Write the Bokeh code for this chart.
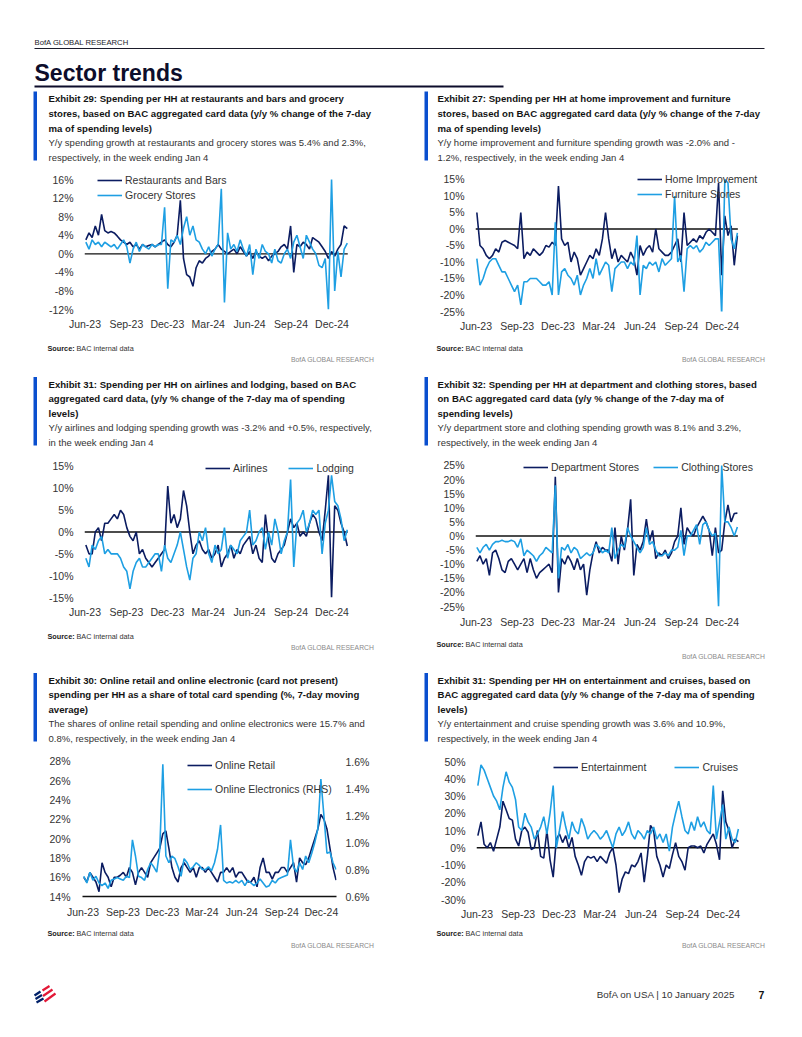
import pandas as pd
from datetime import datetime
from bokeh.plotting import figure
from bokeh.layouts import column, row
from bokeh.models import (Range1d, FixedTicker, DatetimeTickFormatter, PrintfTickFormatter,
                          Legend, LegendItem, LinearAxis)
from bokeh.core.properties import value
from bokeh.embed import file_html
from bokeh.resources import INLINE

# ---------------- data ----------------
dates = pd.date_range("2023-06-03", periods=84, freq="7D")
x_tick_dates = ["2023-06-01", "2023-09-01", "2023-12-01", "2024-03-01", "2024-06-01", "2024-09-01", "2024-12-01"]

restaurants = [3.0, 4.5, 3.5, 6.0, 4.0, 8.5, 5.0, 4.5, 4.8, 4.5, 3.8, 3.0, 2.5,
               2.0, 2.5, 1.5, 2.0, 1.0, 2.0, 1.5, 1.8, 2.0, 1.5, 2.0, 2.5, 3.0,
               2.0, 1.5, 2.5, 4.0, 11.5, -1.0, -4.5, -5.0, -7.0, -3.0, -1.5, -2.0, -1.0,
               -0.5, 0.5, 1.0, 2.0, 1.0, 0.5, 0.0, 0.5, 1.0, 0.0, 1.5, 0.5, -0.5,
               0.5, -1.0, 0.5, -0.5, -1.0, -0.5, -1.5, -0.5, 0.0, 0.5, 1.5, 2.0, 1.0,
               6.0, -4.0, 2.0, 1.5, 2.5, 2.0, 1.0, 3.5, 3.0, 2.5, 1.5, 0.5, -1.0,
               0.5, -0.5, 1.0, 2.0, 6.0, 5.4]
grocery = [2.5, 1.0, 3.0, 2.0, 2.5, 1.5, 2.5, 2.0, 1.5, 2.0, 1.0, 2.0, 3.0,
           1.5, -2.0, 1.0, 2.5, 0.5, 2.0, 1.5, 1.0, 2.0, 1.5, 2.0, 2.0, 10.0,
           -7.5, 3.0, 2.5, 4.0, 2.0, 5.5, 8.0, 4.0, 6.0, 3.0, 2.5, 1.0, 0.0,
           1.5, -0.5, 1.0, 2.0, 14.0, -10.5, 4.5, 1.0, 2.0, 0.5, 3.0, 1.0, -0.5,
           2.0, -4.5, 1.0, -1.0, 2.0, 0.5, 0.0, -2.0, 1.0, -1.5, -2.0, 0.0, 1.0,
           -1.0, 2.5, 4.0, 1.5, -1.0, 4.0, 2.5, 1.0, 0.0, -2.5, -3.0, -1.0, -12.0,
           16.0, -8.0, 0.5, -5.0, 1.0, 2.3]

home_improvement = [5.0, -5.0, -6.0, -8.0, -9.0, -8.0, -6.0, -7.0, -4.0, -3.5, -4.0, -4.5, -5.0,
                    -6.0, 5.0, -9.0, -7.0, -8.0, -6.0, -7.0, -8.0, -7.0, -5.0, -5.5, -4.0, -5.0,
                    13.0, -3.0, -5.0, -4.0, -10.0, -7.0, -9.0, -14.0, -12.0, -10.0, -8.0, -9.0, -6.0,
                    -8.0, -3.0, 5.0, -3.0, -9.0, -6.0, -10.0, -8.0, -9.0, -10.0, -7.0, -9.0, -14.0,
                    -5.0, -8.0, -6.0, -5.0, -7.0, 0.0, -6.0, -7.0, -8.0, -8.0, -7.0, -5.0, -3.0,
                    -10.0, 5.0, -5.0, -4.0, -3.0, -4.0, -2.0, -3.0, -1.0, 0.0, -1.0, -2.0, 14.0,
                    -14.0, 4.0, -2.0, 1.0, -11.0, -2.0]
furniture = [-9.0, -17.0, -15.0, -12.0, -10.0, -9.0, -9.0, -11.0, -13.0, -13.0, -15.0, -17.0, -19.0,
             -17.0, -23.0, -16.0, -16.0, -15.0, -15.0, -15.0, -16.0, -17.0, -17.0, -16.0, -20.0, 2.0,
             -20.0, -13.0, -12.0, -14.0, -15.0, -17.0, -14.0, -20.0, -17.0, -15.0, -12.0, -15.0, -9.0,
             -14.0, -12.0, -10.0, -11.0, -19.0, -12.0, -11.0, -10.0, -10.0, -12.0, -10.0, -11.0, -2.0,
             -20.0, -11.0, -12.0, -10.0, -11.0, -10.0, -13.0, -9.0, -11.0, -10.0, -9.0, 10.0, -10.0,
             -8.0, -19.0, -6.0, -5.0, -6.0, -5.0, -7.0, -6.0, -4.0, -5.0, -4.0, -3.0, -3.0,
             -26.0, 15.0, 14.0, -3.0, -6.0, -1.2]

airlines = [-3.0, -5.0, -5.0, 0.0, 1.0, -2.0, 2.0, 2.0, 3.0, 4.0, 3.0, 5.0, 4.0,
            1.0, -1.0, -2.0, 0.0, -5.0, -4.0, -6.0, -7.0, -8.0, -7.0, -6.0, -5.0, -4.0,
            10.5, 2.0, 4.0, 1.0, 3.0, 9.5, 6.0, 0.0, -5.0, -3.0, -2.0, -4.0, -5.0,
            -4.0, -6.0, -5.0, -3.0, -8.0, -6.0, -5.0, -3.0, -6.0, -4.0, -5.0, -3.0, -2.0,
            -1.0, -5.0, -3.0, -6.0, -7.0, 4.0, -2.0, -6.0, -7.0, -5.0, -4.0, -3.0, 0.0,
            3.0, 1.0, 2.0, -1.0, 0.0, -1.0, 2.0, 4.0, 3.0, 0.0, -2.0, 5.0, 13.0,
            -15.0, 6.0, 5.0, 2.0, 0.0, -3.2]
lodging = [-6.0, -8.0, -3.0, -4.0, -2.0, -1.0, -5.0, -4.0, -5.0, -5.0, -5.0, -6.0, -8.0,
           -9.0, -13.0, -9.0, -7.0, -6.0, -8.0, -8.0, -7.0, -6.0, -5.0, -5.0, -9.0, -3.0,
           -6.0, -7.0, -5.0, -3.0, 0.0, -4.0, -8.0, -11.0, -6.0, -5.0, 0.0, -2.0, 1.0,
           -5.0, -7.0, -3.0, -5.0, -4.0, 1.0, -6.0, -3.0, -4.0, -5.0, -2.0, -1.0, 0.0,
           5.0, -3.0, -2.0, 0.0, 1.0, -4.0, 0.0, -3.0, 3.0, 0.0, -5.0, -2.0, 0.0,
           12.0, -8.0, 2.0, 3.0, 5.0, 0.0, 2.0, 5.0, 4.0, 5.0, -5.0, 2.0, 5.0,
           13.0, 7.0, 6.0, 3.0, -2.0, 0.5]

department = [-9.0, -7.0, -10.0, -8.0, -14.0, -6.0, -5.0, -8.0, -12.0, -13.0, -9.0, -8.0, -10.0,
              -12.0, -10.0, -8.0, -13.0, -8.0, -12.0, -15.0, -13.0, -12.0, -11.0, -10.0, -13.0, 21.0,
              -20.0, -8.0, -10.0, -7.0, -9.0, -12.0, -8.0, -12.0, -10.0, -21.0, -12.0, -6.0, -2.0,
              -6.0, -4.0, -5.0, -5.0, -9.0, 3.0, -10.0, 0.0, -5.0, 2.0, 13.0, -14.0, -3.0,
              -5.0, -2.0, 6.0, -2.0, 2.0, -8.0, -6.0, -7.0, -5.0, -8.0, -6.0, -2.0, 0.0,
              10.0, -3.0, 3.0, 1.0, 0.0, 3.0, 5.0, 7.0, 5.0, 2.0, -7.0, 3.0, -6.0,
              -5.0, 5.0, 11.0, 5.0, 8.0, 8.1]
clothing = [-4.0, -6.0, -4.0, -3.0, -5.0, -3.0, -2.0, -2.0, -1.5, -2.0, -2.0, -1.5, -2.0,
            -4.0, -1.0, -7.0, -5.0, -6.0, -7.0, -9.0, -7.0, -6.0, -4.0, -5.0, -6.0, 18.0,
            -15.0, -4.0, -5.0, -3.0, -6.0, -4.0, -5.0, -8.0, -7.0, -6.0, -7.0, -6.0, -3.0,
            -4.0, -6.0, -5.0, -6.0, 3.0, -8.0, -5.0, -3.0, -4.0, 3.0, 0.0, -2.0, -4.0,
            -6.0, -4.0, 3.0, -3.0, -2.0, -5.0, -7.0, -7.0, -6.0, -7.0, -5.0, -5.0, -4.0,
            2.0, -7.0, 0.0, 0.0, 2.0, 4.0, -3.0, 4.0, 5.0, 2.0, 0.0, 1.0, -25.0,
            25.0, 5.0, 5.0, 3.0, 0.0, 3.2]

online_retail = [16.0, 15.5, 16.5, 16.0, 15.5, 14.5, 17.5, 16.5, 16.0, 15.0, 16.0, 16.0, 16.2,
                 16.5, 16.0, 17.0, 16.5, 15.2, 16.5, 17.0, 16.5, 16.0, 17.5, 18.0, 18.5, 19.0,
                 20.5, 20.8, 19.0, 17.0, 16.0, 15.5, 17.0, 17.5, 17.0, 16.5, 17.0, 16.0, 17.0,
                 17.0, 16.5, 17.0, 16.5, 16.0, 15.5, 16.5, 16.5, 17.0, 16.5, 17.0, 16.0, 16.5,
                 16.5, 16.0, 15.5, 15.5, 16.0, 15.0, 17.0, 18.0, 16.5, 16.5, 15.8, 16.5, 16.5,
                 17.0, 17.0, 16.5, 17.0, 17.5, 15.5, 18.0, 17.5, 17.3, 18.0, 19.0, 20.0, 21.0,
                 22.5, 22.0, 21.0, 19.0, 17.0, 15.7]
online_electronics = [0.75, 0.70, 0.78, 0.72, 0.75, 0.70, 0.68, 0.70, 0.66, 0.72, 0.73, 0.74, 0.73,
                      0.72, 0.75, 0.74, 1.02, 0.90, 0.75, 0.74, 0.72, 0.80, 0.85, 0.82, 0.78, 0.95,
                      1.58, 0.90, 0.85, 0.90, 0.88, 0.82, 0.75, 0.88, 0.85, 0.80, 0.82, 0.85, 0.83,
                      0.80, 0.80, 0.82, 0.79, 0.85, 0.95, 1.13, 0.72, 0.70, 0.71, 0.70, 0.72, 0.70,
                      0.72, 0.68, 0.72, 0.70, 0.68, 0.70, 0.73, 0.70, 0.67, 0.68, 0.72, 0.70, 0.73,
                      0.74, 0.75, 0.76, 1.02, 0.82, 0.78, 0.85, 0.80, 0.90, 0.85, 0.92, 1.00, 1.10,
                      1.47, 1.20, 0.92, 0.93, 0.85, 0.80]

entertainment = [7, 15, 2, 0, 3, -2, 5, 12, 27, 22, 17, 16, 5,
                 1, 10, 12, 9, -1, 0, 10, -5, -6, 10, -7, -17, 5,
                 8, 3, 7, 0, 6, -5, -10, -16, -8, -5, -6, -5, -8,
                 -5, -7, -9, -3, 0, -10, -26, -18, -14, -15, -10, -11, -8,
                 -3, -20, -5, 13, 10, -5, -10, -17, -10, -12, -4, 3, -5,
                 -8, -13, 0, 1, 1, 0, 1, -3, 2, 5, 8, 2, -7,
                 33, 15, 10, 0, 5, 3.6]
cruises = [36, 48, 45, 40, 35, 30, 27, 22, 35, 44, 38, 35, 28,
           12, 10, 20, 15, 12, 5, 8, 12, 18, 8, 20, 36, 0,
           10, 21, 12, 5, 15, 10, 8, 17, 12, 5, 8, 10, 8,
           5, 7, 10, 5, 0, 8, 12, 7, 10, 15, 8, 5, 10,
           8, 5, 10, 8, 12, 5, 8, 3, 8, -2, 12, 20, 27,
           18, 10, 8, 15, 10, 18, 12, 15, 10, 8, 36, 5, 15,
           25, 5, 12, 5, 3, 10.9]

y_ticks_1 = [-12, -8, -4, 0, 4, 8, 12, 16]
y_ticks_2 = [-25, -20, -15, -10, -5, 0, 5, 10, 15]
y_ticks_3 = [-15, -10, -5, 0, 5, 10, 15]
y_ticks_4 = [-25, -20, -15, -10, -5, 0, 5, 10, 15, 20, 25]
y_ticks_5 = [14, 16, 18, 20, 22, 24, 26, 28]
y_ticks_5r = [0.6, 0.8, 1.0, 1.2, 1.4, 1.6]
y_ticks_6 = [-30, -20, -10, 0, 10, 20, 30, 40, 50]

# ---------------- styles ----------------
FONT = "Liberation Sans"
DARK = "#0b1c61"
LIGHT = "#1e9fe3"
BAR = "#0a4fcf"
TICK_FS = "10.5px"
LEG_FS = "10.5px"
HEAD_FS = "9.6px"
SUB_FS = "9.5px"
X0 = datetime(2023, 5, 31)
X1 = datetime(2025, 1, 5)       # end of data area (online panel, right axis)
X1_EXT = datetime(2025, 3, 1)   # frame extended to the right so legends are not clipped
XT = [pd.Timestamp(d).value / 1e6 for d in x_tick_dates]


def tfig(ox, oy, w, h):
    p = figure(width=w, height=h, x_range=Range1d(0, w), y_range=Range1d(h, 0),
               x_axis_type=None, y_axis_type=None, toolbar_location=None,
               output_backend="svg", min_border=0, title=None, frame_align=False)
    p.outline_line_color = None
    p.background_fill_color = "white"
    p.border_fill_color = "white"
    p._ox, p._oy = ox, oy
    return p


def put_text(p, x, y, s, size, style="normal", color="#222222", align="left", font=FONT):
    p.text(x=[x - p._ox], y=[y - p._oy], text=[s], text_font=value(font),
           text_font_size=size, text_font_style=style, text_color=color,
           text_align=align, text_baseline="middle")


def put_seg(p, x0, y0, x1, y1, color, width):
    p.segment(x0=[x0 - p._ox], y0=[y0 - p._oy], x1=[x1 - p._ox], y1=[y1 - p._oy],
              line_color=color, line_width=width)


def panel_header(p, xbar, xtext, cents, bold, sub):
    p.quad(left=[xbar - p._ox], right=[xbar + 3.5 - p._ox],
           top=[cents[0] - 7 - p._oy], bottom=[cents[-1] + 3.5 - p._oy],
           fill_color=BAR, line_color=None)
    for c, s in zip(cents[:3], bold):
        put_text(p, xtext, c, s, HEAD_FS, "bold", "#141414")
    for c, s in zip(cents[3:], sub):
        put_text(p, xtext, c, s, SUB_FS, "normal", "#333333")


def source(p, xs, ys, xr, yr):
    put_text(p, xs, ys, "Source:", "7.3px", "bold", "#222222")
    put_text(p, xs + 29, ys, "BAC internal data", "7.3px", "normal", "#333333")
    put_text(p, xr, yr, "BofA GLOBAL RESEARCH", "6.8px", "normal", "#8a8a8a", align="right")


def chart(w, h, ml, mr, mb, yr, yticks, ystand, xstand, xend=X1_EXT, zero=True):
    p = figure(width=w, height=h, x_axis_type="datetime", x_range=Range1d(X0, xend),
               y_range=Range1d(*yr), toolbar_location=None, output_backend="svg",
               min_border_left=ml, min_border_right=mr, min_border_top=0,
               min_border_bottom=mb, title=None, frame_align=False)
    p.outline_line_color = None
    p.grid.visible = False
    p.xaxis.ticker = FixedTicker(ticks=XT)
    p.xaxis.formatter = DatetimeTickFormatter(days="%b-%y", months="%b-%y", years="%b-%y",
                                              boundary_scaling=False)
    p.yaxis.ticker = FixedTicker(ticks=yticks)
    p.yaxis.formatter = PrintfTickFormatter(format="%d%%")
    for ax in p.xaxis + p.yaxis:
        ax.axis_line_color = None
        ax.major_tick_line_color = None
        ax.minor_tick_line_color = None
        ax.major_tick_out = 0
        ax.major_tick_in = 0
        ax.minor_tick_out = 0
        ax.minor_tick_in = 0
        ax.major_label_text_font = FONT
        ax.major_label_text_font_size = TICK_FS
        ax.major_label_text_color = "#333333"
    p.yaxis.major_label_standoff = ystand
    p.xaxis.major_label_standoff = xstand
    if zero:
        # zero reference line across the span of the data
        p.line(x=[X0, X1], y=[0, 0], line_color="#111111", line_width=1.3)
    return p


def legend(p, items, loc, orient, spacing):
    lg = Legend(items=[LegendItem(label=l, renderers=[r]) for l, r in items],
                location=loc, orientation=orient, spacing=spacing, padding=0, margin=0,
                glyph_width=25, glyph_height=12, label_height=12, label_standoff=3,
                label_text_font=FONT, label_text_font_size=LEG_FS, label_text_color="#333333",
                border_line_color=None, background_fill_alpha=0)
    p.add_layout(lg)


LW = 1.6

# ---------------- page header ----------------
hdr = tfig(0, 0, 800, 88)
put_text(hdr, 34, 42, "BofA GLOBAL RESEARCH", "7.7px", "normal", "#1b1b2a")
put_seg(hdr, 34, 48, 764, 48, "#1b1b2a", 1)
put_text(hdr, 34, 72.5, "Sector trends", "23px", "bold", "#0d0d2b")
put_seg(hdr, 34, 86, 503, 86, "#0d0d2b", 2)

C1 = [98, 112.5, 127.5, 142, 156.5]
C2 = [383.5, 398, 412.5, 427, 441.5]
C3 = [679.5, 694, 708.5, 723, 737.5]

# ---------------- left column ----------------
L_T0 = tfig(0, 88, 405, 80)
panel_header(L_T0, 33, 48, C1,
             ["Exhibit 29: Spending per HH at restaurants and bars and grocery",
              "stores, based on BAC aggregated card data (y/y % change of the 7-day",
              "ma of spending levels)"],
             ["Y/y spending growth at restaurants and grocery stores was 5.4% and 2.3%,",
              "respectively, in the week ending Jan 4"])

c1 = chart(405, 169, 84, 33, 28, (-12, 18.37), y_ticks_1, 11, 8)
r1a = c1.line(dates, restaurants, line_color=DARK, line_width=LW)
r1b = c1.line(dates, grocery, line_color=LIGHT, line_width=LW)
legend(c1, [("Restaurants and Bars", r1a), ("Grocery Stores", r1b)], (13, 108), "vertical", 3)

L_T1 = tfig(0, 337, 405, 121)
source(L_T1, 47, 348, 374, 358.5)
panel_header(L_T1, 33, 48, C2,
             ["Exhibit 31: Spending per HH on airlines and lodging, based on BAC",
              "aggregated card data, (y/y % change of the 7-day ma of spending",
              "levels)"],
             ["Y/y airlines and lodging spending growth was -3.2% and +0.5%, respectively,",
              "in the week ending Jan 4"])

c3 = chart(405, 167, 84, 33, 28, (-15, 16.83), y_ticks_3, 11, 8)
r3a = c3.line(dates, airlines, line_color=DARK, line_width=LW)
r3b = c3.line(dates, lodging, line_color=LIGHT, line_width=LW)
legend(c3, [("Airlines", r3a), ("Lodging", r3b)], (121, 123), "horizontal", 21)

L_T2 = tfig(0, 625, 405, 125)
source(L_T2, 47, 635.7, 374, 646.7)
panel_header(L_T2, 33, 48, C3,
             ["Exhibit 30: Online retail and online electronic (card not present)",
              "spending per HH as a share of total card spending (%, 7-day moving",
              "average)"],
             ["The shares of online retail spending and online electronics were 15.7% and",
              "0.8%, respectively, in the week ending Jan 4"])

c5 = chart(405, 175, 82, 69, 29, (14, 29.14), y_ticks_5, 12, 9, xend=X1, zero=False)
c5.xaxis.axis_line_color = "#111111"
c5.xaxis.axis_line_width = 1.5
c5.extra_y_ranges = {"rhs": Range1d(0.6, 1.6815)}
rax = LinearAxis(y_range_name="rhs", ticker=FixedTicker(ticks=y_ticks_5r),
                 formatter=PrintfTickFormatter(format="%.1f%%"))
rax.axis_line_color = None
rax.major_tick_line_color = None
rax.minor_tick_line_color = None
rax.major_tick_out = 0
rax.major_tick_in = 0
rax.minor_tick_out = 0
rax.minor_tick_in = 0
rax.major_label_text_font = FONT
rax.major_label_text_font_size = TICK_FS
rax.major_label_text_color = "#333333"
rax.major_label_standoff = 9
c5.add_layout(rax, "right")
r5a = c5.line(dates, online_retail, line_color=DARK, line_width=LW)
r5b = c5.line(dates, online_electronics, line_color=LIGHT, line_width=LW, y_range_name="rhs")
legend(c5, [("Online Retail", r5a), ("Online Electronics (RHS)", r5b)], (105, 101), "vertical", 12)

L_T3 = tfig(0, 925, 405, 30)
source(L_T3, 47, 933, 374, 944.5)

# ---------------- right column ----------------
R_T0 = tfig(405, 88, 395, 80)
panel_header(R_T0, 424, 437, C1,
             ["Exhibit 27: Spending per HH at home improvement and furniture",
              "stores, based on BAC aggregated card data (y/y % change of the 7-day",
              "ma of spending levels)"],
             ["Y/y home improvement and furniture spending growth was -2.0% and -",
              "1.2%, respectively, in the week ending Jan 4"])

c2 = chart(395, 169, 70, 38, 26, (-25, 18.33), y_ticks_2, 11, 8)
r2a = c2.line(dates, home_improvement, line_color=DARK, line_width=LW)
r2b = c2.line(dates, furniture, line_color=LIGHT, line_width=LW)
legend(c2, [("Home Improvement", r2a), ("Furniture Stores", r2b)], (162, 111), "vertical", 3)

R_T1 = tfig(405, 337, 395, 121)
source(R_T1, 436, 348, 765, 358.5)
panel_header(R_T1, 424, 437, C2,
             ["Exhibit 32: Spending per HH at department and clothing stores, based",
              "on BAC aggregated card data (y/y % change of the 7-day ma of",
              "spending levels)"],
             ["Y/y department store and clothing spending growth was 8.1% and 3.2%,",
              "respectively, in the week ending Jan 4"])

c4 = chart(395, 177, 70, 38, 29, (-25, 27.48), y_ticks_4, 11, 9)
r4a = c4.line(dates, department, line_color=DARK, line_width=LW)
r4b = c4.line(dates, clothing, line_color=LIGHT, line_width=LW)
legend(c4, [("Department Stores", r4a), ("Clothing Stores", r4b)], (48, 133), "horizontal", 14)

R_T2 = tfig(405, 635, 395, 115)
source(R_T2, 436, 644, 765, 655.5)
panel_header(R_T2, 424, 437, C3,
             ["Exhibit 31: Spending per HH on entertainment and cruises, based on",
              "BAC aggregated card data (y/y % change of the 7-day ma of spending",
              "levels)"],
             ["Y/y entertainment and cruise spending growth was 3.6% and 10.9%,",
              "respectively, in the week ending Jan 4"])

c6 = chart(395, 175, 71, 37, 26, (-30, 56.38), y_ticks_6, 11, 8)
r6a = c6.line(dates, entertainment, line_color=DARK, line_width=LW)
r6b = c6.line(dates, cruises, line_color=LIGHT, line_width=LW)
legend(c6, [("Entertainment", r6a), ("Cruises", r6b)], (77, 126), "horizontal", 28)

R_T3 = tfig(405, 925, 395, 30)
source(R_T3, 436, 933, 765, 944.5)

# ---------------- page footer ----------------
ftr = tfig(0, 955, 800, 72)
for (xa, ya, xb, yb) in [(34, 995, 40, 991), (35, 998.5, 41.5, 994.5), (36, 1002, 43, 998)]:
    put_seg(ftr, xa, ya, xb, yb, "#012169", 2.2)
for (xa, ya, xb, yb) in [(42, 990, 49, 985.5), (42.5, 995.5, 52, 989), (44, 1001, 55, 993)]:
    put_seg(ftr, xa, ya, xb, yb, "#e31837", 2.2)
put_text(ftr, 735, 994, "BofA on USA | 10 January 2025", "9.8px", "normal", "#333333", align="right")
put_text(ftr, 758, 994, "7", "10.5px", "bold", "#111111")

left_col = column(L_T0, c1, L_T1, c3, L_T2, c5, L_T3)
right_col = column(R_T0, c2, R_T1, c4, R_T2, c6, R_T3)
page = column(hdr, row(left_col, right_col), ftr)

open("out.html", "w").write(file_html(page, INLINE))
